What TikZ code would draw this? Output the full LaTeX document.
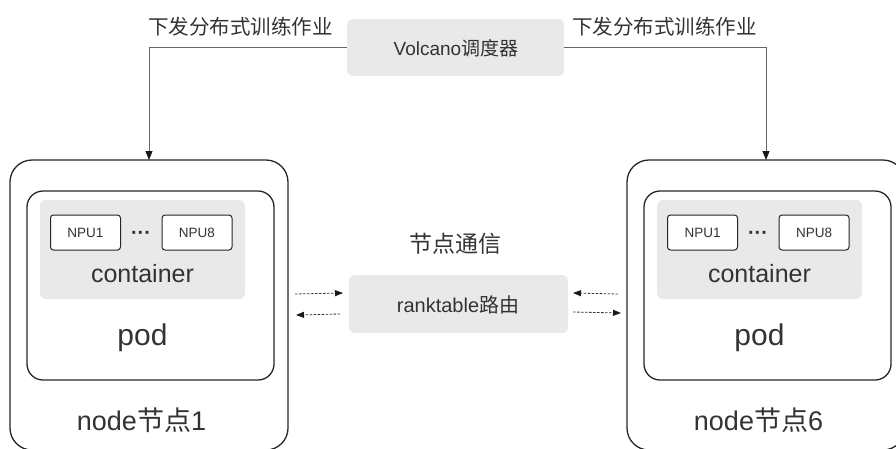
\documentclass[tikz,border=0pt]{standalone}
\usepackage{fontspec}
\setmainfont{Liberation Sans}
\newfontfamily\cjk{Noto Sans CJK SC}
\usetikzlibrary{arrows.meta}
\definecolor{txt}{HTML}{333333}
\definecolor{boxgray}{HTML}{E9E9E9}
\definecolor{linegray}{HTML}{666666}
\newcommand{\fsz}[1]{\fontsize{#1pt}{#1pt}\selectfont}
\tikzset{
  outerbox/.style={draw=black!85, line width=1.3pt, rounded corners=22pt,
    minimum width=278pt, minimum height=290pt, inner sep=0pt, outer sep=0pt},
  podbox/.style={draw=black!85, line width=1.3pt, rounded corners=16pt,
    minimum width=247pt, minimum height=189pt, inner sep=0pt},
  contbox/.style={fill=boxgray, rounded corners=6pt,
    minimum width=205pt, minimum height=99pt, inner sep=0pt},
  npubox/.style={draw=black!85, fill=white, line width=1pt, rounded corners=3pt,
    minimum width=70pt, minimum height=35pt, inner sep=0pt},
  graybox/.style={fill=boxgray, rounded corners=6pt, inner sep=0pt, outer sep=0pt},
  lbl/.style={text=txt, anchor=base, inner sep=0pt},
  link/.style={draw=linegray, line width=0.9pt, -{Triangle[length=9pt,width=7pt,color=black!90]}},
  dasharr/.style={draw=txt, line width=0.8pt, dash pattern=on 2.5pt off 1.5pt,
    -{Triangle[length=8pt,width=6pt,color=black!90]}}
}
\begin{document}
\begin{tikzpicture}[x=1pt,y=-1pt]
  \useasboundingbox (0,0) rectangle (896,448);
  %% Scheduler
  \node[graybox, minimum width=217pt, minimum height=57pt] (volc) at (455.5,47.5) {};
  \node[lbl] (volctxt) at (456,55) {\fsz{19}Volcano{\cjk 调度器}};
  \node[lbl] (jobl) at (240.5,34) {\fsz{20.5}\cjk 下发分布式训练作业};
  \node[lbl] (jobr) at (664.5,34) {\fsz{20.5}\cjk 下发分布式训练作业};
  %% Nodes
  \foreach \n/\dx in {1/0,6/617}{
    \begin{scope}[xshift=\dx pt]
      \node[outerbox] (node\n) at (149,305) {};
      \node[podbox] (pod\n) at (150.5,285.5) {};
      \node[contbox] (cont\n) at (142.5,249.5) {};
      \node[npubox] (npua\n) at (85.5,232.5) {};
      \node[npubox] (npub\n) at (197,232.5) {};
      \node[lbl] at (85.5,237) {\fsz{13.5}NPU1};
      \node[lbl] at (197,237) {\fsz{13.5}NPU8};
      \node[lbl] (dots\n) at (141,239) {\fsz{20}\textbf{···}};
      \node[lbl] (conttxt\n) at (142.5,282) {\fsz{25}container};
      \node[lbl] (podtxt\n) at (142.5,345) {\fsz{30}pod};
      \node[lbl] (nodetxt\n) at (141.5,430) {\fsz{27}node{\cjk 节点}\n};
    \end{scope}
  }
  %% Communication
  \node[lbl] (comm) at (455,252) {\fsz{23}\cjk 节点通信};
  \node[graybox, minimum width=219pt, minimum height=58pt] (rank) at (458.5,304) {};
  \node[lbl] (ranktxt) at (458,312) {\fsz{20}ranktable{\cjk 路由}};
  %% Job arrows
  \draw[link] (volc.west) -| (node1.north);
  \draw[link] (volc.east) -| (node6.north);
  %% Dashed arrows
  \draw[dasharr] ([xshift=7pt,yshift=11pt]node1.east) -- ([xshift=-6pt,yshift=11pt]rank.west);
  \draw[dasharr] ([xshift=-9pt,yshift=-10pt]rank.west) -- ([xshift=8pt,yshift=-10pt]node1.east);
  \draw[dasharr] ([xshift=-9pt,yshift=11pt]node6.west) -- ([xshift=5pt,yshift=11pt]rank.east);
  \draw[dasharr] ([xshift=5pt,yshift=-8pt]rank.east) -- ([xshift=-6pt,yshift=-8pt]node6.west);
\end{tikzpicture}
\end{document}
